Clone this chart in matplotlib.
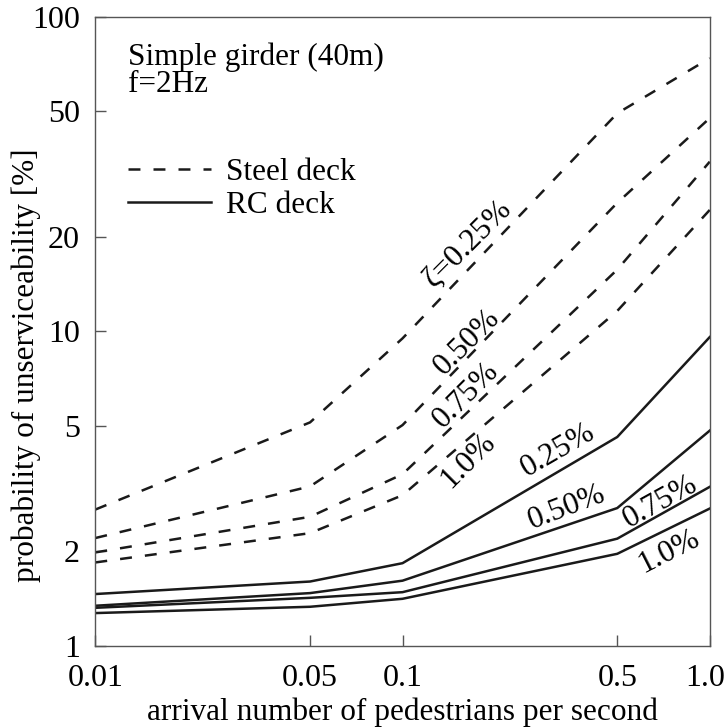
import matplotlib
matplotlib.use("Agg")
import matplotlib.pyplot as plt
from matplotlib.lines import Line2D
from matplotlib.transforms import ScaledTranslation

plt.rcParams['font.family'] = ['Liberation Serif', 'DejaVu Serif']
plt.rcParams['lines.scale_dashes'] = False

# arrival rate [1/s]
arrival = [0.01, 0.05, 0.1, 0.5, 1.0]

# probability of unserviceability [%], steel deck, by damping ratio
steel_025 = [2.71, 5.13, 9.49, 49.3, 73.8]
steel_050 = [2.20, 3.21, 5.03, 25.6, 47.6]
steel_075 = [1.98, 2.57, 3.51, 15.7, 34.6]
steel_100 = [1.84, 2.28, 3.01, 11.6, 24.3]

# RC deck
rc_025 = [1.46, 1.60, 1.83, 4.61, 9.58]
rc_050 = [1.34, 1.47, 1.61, 2.74, 4.83]
rc_075 = [1.32, 1.42, 1.48, 2.19, 3.20]
rc_100 = [1.27, 1.33, 1.41, 1.96, 2.73]

xticks = [0.01, 0.05, 0.1, 0.5, 1.0]
xtick_labels = ['0.01', '0.05', '0.1', '0.5', '1.0']
yticks = [1, 2, 5, 10, 20, 50, 100]
ytick_labels = ['1', '2', '5', '10', '20', '50', '100']

# curve labels: x, y (data coords), text, rotation
curve_labels = [
    (0.163, 19.0, 'ζ=0.25%', 45),
    (0.162, 9.24, '0.50%', 45),
    (0.161, 6.27, '0.75%', 45),
    (0.163, 3.89, '1.0%', 45),
    (0.321, 4.19, '0.25%', 30),
    (0.343, 2.76, '0.50%', 21),
    (0.689, 2.86, '0.75%', 29),
    (0.737, 2.00, '1.0%', 27),
]

fs = 22.5
tfs = 23
lw = 1.8
col = '#1a1a1a'
dash = (8.6, 9.4)

fig = plt.figure(figsize=(7.26, 7.27), dpi=100)
ax = fig.add_axes([0.1313, 0.1118, 0.8463, 0.8652])

for s in [steel_025, steel_050, steel_075, steel_100]:
    ax.plot(arrival, s, color=col, lw=lw, dashes=dash)
for r in [rc_025, rc_050, rc_075, rc_100]:
    ax.plot(arrival, r, color=col, lw=lw)

ax.set_xscale('log')
ax.set_yscale('log')
ax.set_xlim(0.01, 1.0)
ax.set_ylim(1, 100)
ax.set_xticks(xticks)
ax.set_xticklabels(xtick_labels)
ax.set_yticks(yticks)
ax.set_yticklabels(ytick_labels)
ax.minorticks_off()
ax.tick_params(direction='in', length=8, width=1, color='#555555',
               labelsize=tfs)
ax.tick_params(axis='x', pad=13)
ax.tick_params(axis='y', pad=11)
for sp in ax.spines.values():
    sp.set_color('#555555')
    sp.set_linewidth(1)

# keep the last x label inside the figure
last = ax.get_xticklabels()[-1]
last.set_transform(last.get_transform() +
                   ScaledTranslation(-5 / 100, 0, fig.dpi_scale_trans))

ax.set_xlabel('arrival number of pedestrians per second', fontsize=fs)
ax.set_ylabel('probability of unserviceability [%]', fontsize=fs)
ax.xaxis.set_label_coords(0.5, -0.082)
ax.yaxis.set_label_coords(-0.088, 0.446)

for x, y, t, rot in curve_labels:
    ax.text(x, y, t, fontsize=fs, rotation=rot, ha='center', va='center',
            rotation_mode='anchor')

ax.text(0.053, 0.923, 'Simple girder (40m)', transform=ax.transAxes,
        fontsize=fs, va='baseline')
ax.text(0.053, 0.881, 'f=2Hz', transform=ax.transAxes,
        fontsize=fs, va='baseline')

handles = [Line2D([], [], color=col, lw=lw, dashes=dash),
           Line2D([], [], color=col, lw=lw)]
ax.legend(handles, ['Steel deck', 'RC deck'], loc='upper left',
          bbox_to_anchor=(0.053, 0.775), frameon=False, fontsize=fs,
          handlelength=2.65, handletextpad=0.5, labelspacing=0.12,
          borderpad=0, borderaxespad=0)

fig.savefig('out.png', dpi=100)
